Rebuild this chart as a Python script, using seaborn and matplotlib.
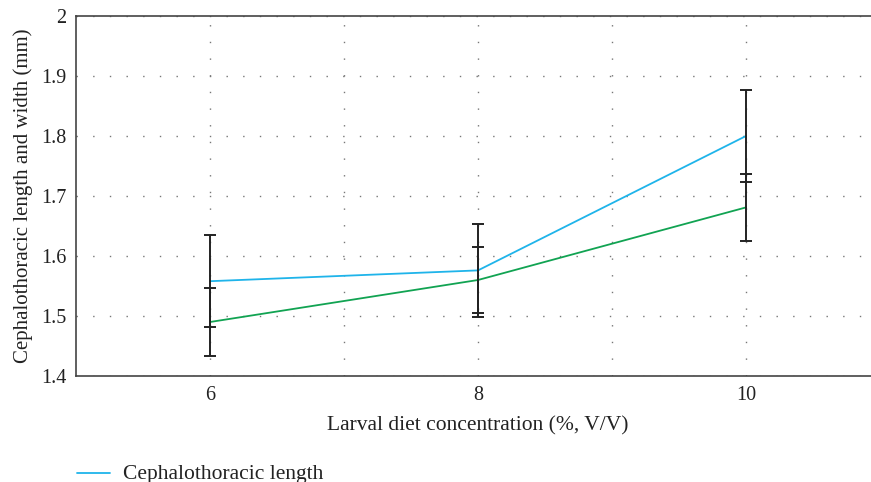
import matplotlib
matplotlib.use("Agg")
import matplotlib.pyplot as plt
import seaborn as sns
import pandas as pd

concentration = [6, 8, 10]
length_mean = [1.558, 1.576, 1.800]
length_err = [0.077, 0.077, 0.077]
width_mean = [1.490, 1.560, 1.681]
width_err = [0.056, 0.055, 0.056]
series_names = ["Cephalothoracic length", "Cephalothoracic width"]
y_ticks = [1.4, 1.5, 1.6, 1.7, 1.8, 1.9, 2]
y_tick_labels = ["1.4", "1.5", "1.6", "1.7", "1.8", "1.9", "2"]
x_ticks = [6, 8, 10]

df = pd.DataFrame({
    "x": concentration * 2,
    "y": length_mean + width_mean,
    "series": [series_names[0]] * 3 + [series_names[1]] * 3,
})

sns.set_style("white")
plt.rcParams["font.family"] = ["Liberation Serif", "DejaVu Serif"]

fig = plt.figure(figsize=(8.71, 4.82), dpi=100)
ax = fig.add_axes([76 / 871, 1 - 376 / 482, 804 / 871, 360 / 482])

palette = {series_names[0]: "#1fb4ea", series_names[1]: "#11a352"}
sns.lineplot(data=df, x="x", y="y", hue="series", palette=palette,
             linewidth=1.3, ax=ax, legend=False, zorder=3)

for means, errs in [(length_mean, length_err), (width_mean, width_err)]:
    ax.errorbar(concentration, means, yerr=errs, fmt="none", ecolor="#222222",
                elinewidth=1.4, capsize=4, capthick=1.4, zorder=4)

ax.set_xlim(5, 11)
ax.set_ylim(1.4, 2)
ax.set_xticks(x_ticks)
ax.set_xticks([7, 9], minor=True)
ax.set_yticks(y_ticks)
ax.set_yticklabels(y_tick_labels)
ax.tick_params(axis="both", which="both", length=0, labelsize=14.5, colors="#222222", pad=7)
ax.grid(True, which="both", axis="x", color="#777777", linestyle=(0, (1, 11)), linewidth=1)
ax.grid(True, which="major", axis="y", color="#777777", linestyle=(0, (1, 11)), linewidth=1)

for side in ["top", "left", "bottom"]:
    ax.spines[side].set_color("#444444")
    ax.spines[side].set_linewidth(1.2)
ax.spines["right"].set_visible(False)

ax.set_xlabel("Larval diet concentration (%, V/V)", fontsize=15.5, color="#222222", labelpad=8)
ax.set_ylabel("Cephalothoracic length and width (mm)", fontsize=15, color="#222222", labelpad=6)

# legend: only the first entry fits on the page
fig.lines.append(plt.Line2D([77 / 871, 110 / 871], [1 - 473 / 482] * 2,
                            color=palette[series_names[0]], linewidth=1.3,
                            transform=fig.transFigure))
fig.text(123 / 871, 1 - 474 / 482, series_names[0], fontsize=15.5,
         color="#222222", va="center", ha="left")

fig.savefig("out.png", dpi=100)
